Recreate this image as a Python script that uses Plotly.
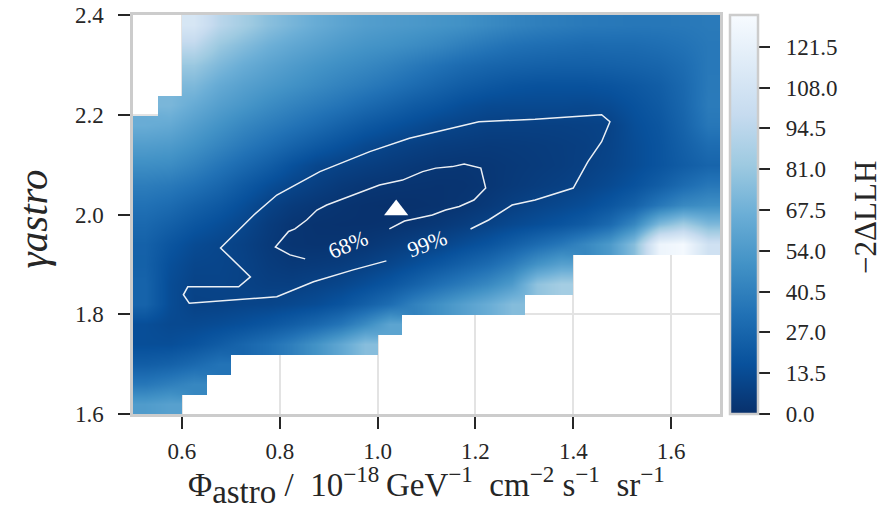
import plotly.graph_objects as go

N = None
# Scan grid (bin centres)
phi_grid = [0.525, 0.575, 0.625, 0.675, 0.725, 0.775, 0.825, 0.875, 0.925, 0.975, 1.025, 1.075,
            1.125, 1.175, 1.225, 1.275, 1.325, 1.375, 1.425, 1.475, 1.525, 1.575, 1.625, 1.675]
gamma_grid = [1.62, 1.66, 1.70, 1.74, 1.78, 1.82, 1.86, 1.90, 1.94, 1.98, 2.02, 2.06,
              2.10, 2.14, 2.18, 2.22, 2.26, 2.30, 2.34, 2.38]

# -2 Delta LLH, one row per gamma value (None = no scan point)
llh = [
    [55, 58, N, N, N, N, N, N, N, N, N, N, N, N, N, N, N, N, N, N, N, N, N, N],
    [36, 40, 44, N, N, N, N, N, N, N, N, N, N, N, N, N, N, N, N, N, N, N, N, N],
    [23, 25, 29, 34, N, N, N, N, N, N, N, N, N, N, N, N, N, N, N, N, N, N, N, N],
    [15, 15, 17.5, 22, 27, 32.5, 40, 50, 62, 75, N, N, N, N, N, N, N, N, N, N, N, N, N, N],
    [15, 12.5, 12.5, 14, 16, 19, 23, 28, 35, 46, 60, N, N, N, N, N, N, N, N, N, N, N, N, N],
    [26, 14, 9, 9, 10, 10.5, 12, 14, 18, 24, 31, 41, 49, 57, 65, 74, N, N, N, N, N, N, N, N],
    [26, 14, 9.5, 10, 9, 7.5, 7.5, 9, 11, 14.5, 19, 25, 32, 38, 45, 54.5, 78, 85, N, N, N, N, N, N],
    [24.5, 15.5, 11, 10.5, 9, 6, 4.5, 5, 6, 8, 11, 15, 19.5, 24.5, 30, 38, 50, 58, N, N, N, N, N, N],
    [25, 18.5, 13.5, 11, 8.5, 5, 2.5, 2, 2.3, 3.2, 5.5, 7.8, 10, 14, 18, 23.5, 30, 36, 44, 54, 75, 125, 130, 105],
    [28.5, 24, 19, 15, 11, 6, 2.8, 1.5, 1.1, 1.1, 1.5, 2.6, 4.2, 6.4, 9.2, 12.3, 15, 18, 22, 29.5, 44, 72, 84, 72],
    [33, 30, 25, 20.5, 15, 9, 5.5, 3.5, 2, 1, 0.5, 0.8, 1.5, 2.7, 4.9, 7.6, 10, 12, 14.5, 19, 25, 36, 45, 48],
    [39, 37, 33, 27.5, 21, 15, 10.5, 7.5, 4.8, 3.2, 2.5, 2, 1.7, 2, 3.2, 4.9, 6.5, 8, 10, 13, 17, 23, 30, 36],
    [47.5, 46.5, 41.5, 35, 29, 23, 16.5, 11.4, 8.9, 7.25, 5.75, 4.4, 3.3, 2.9, 3.5, 4.5, 5.5, 6.5, 8, 10.5, 14, 18, 22.5, 26.5],
    [56, 54.5, 49.5, 43, 37, 31.5, 26, 21, 16.5, 12.5, 9.75, 8, 6.5, 5.8, 5.2, 5.5, 6, 6.7, 7.6, 9.8, 14, 18, 24, 30.5],
    [65, 63, 56.5, 50, 44, 39, 34.5, 30, 25, 20.5, 17, 14, 11, 9.5, 8.2, 8, 8, 8.2, 8.6, 9.4, 15, 19, 26, 36],
    [N, 71, 64, 57, 52, 46.5, 42, 38, 34, 29.5, 25.5, 21.5, 18.5, 15, 13, 12.5, 12.5, 12.5, 12, 13.5, 17, 21, 27.5, 38],
    [N, N, 72, 63.5, 58, 53.5, 49.5, 45.5, 41.5, 38, 34, 30, 26, 22.5, 20, 18, 17, 17, 17, 18, 20, 23, 28.5, 37],
    [N, N, 81, 72, 65, 59.5, 55, 51, 47.5, 44.5, 41, 37, 33, 29.5, 27, 25.5, 24.5, 24, 24, 24.5, 25.5, 27, 30.5, 36.5],
    [N, N, 96, 81.5, 74, 67, 62, 58, 54, 51, 49, 46.5, 43.5, 39.5, 36, 33, 31.5, 30.5, 29.5, 30, 30, 31.5, 33.5, 36.5],
    [N, N, 110, 94, 85, 76, 70, 64.5, 60, 56.5, 54.5, 53, 51, 49, 45.5, 42.5, 40, 38.5, 37, 36.5, 36, 36, 36.5, 37.5],
]

# Contour paths (68% and 99%)
c68_phi = [1.024, 1.055, 1.079, 1.112, 1.139, 1.167, 1.197, 1.221, 1.211, 1.177, 1.153, 1.119,
           1.092, 1.051, 1.004, 0.957, 0.930, 0.896, 0.876, 0.855, 0.831, 0.818, 0.791, 0.821, 0.852]
c68_gamma = [1.971, 1.987, 1.992, 1.999, 2.009, 2.016, 2.029, 2.053, 2.093, 2.101, 2.096, 2.093,
             2.086, 2.069, 2.059, 2.042, 2.032, 2.019, 2.009, 1.989, 1.971, 1.966, 1.935, 1.919, 1.911]
c99_phi = [1.190, 1.227, 1.275, 1.322, 1.400, 1.430, 1.458, 1.475, 1.458, 1.390, 1.322, 1.207,
           1.133, 1.065, 0.984, 0.882, 0.794, 0.747, 0.679, 0.740, 0.716, 0.612, 0.603, 0.615,
           0.794, 0.869, 0.950, 1.018]
c99_gamma = [1.971, 1.989, 2.019, 2.029, 2.053, 2.106, 2.146, 2.186, 2.200, 2.196, 2.191, 2.186,
             2.169, 2.153, 2.126, 2.086, 2.039, 1.999, 1.933, 1.875, 1.855, 1.855, 1.839, 1.822,
             1.835, 1.865, 1.889, 1.907]

label_text = ["68%", "99%"]
label_phi = [0.94, 1.102]
label_gamma = [1.939, 1.942]
label_angle = [-23, -21]

best_phi = [1.038]
best_gamma = [2.009]

x_ticks = [0.6, 0.8, 1.0, 1.2, 1.4, 1.6]
y_ticks = [1.6, 1.8, 2.0, 2.2, 2.4]
cbar_ticks = [0.0, 13.5, 27.0, 40.5, 54.0, 67.5, 81.0, 94.5, 108.0, 121.5]

blues_r = [
    [0.0, "#08306b"], [0.125, "#08519c"], [0.25, "#2171b5"], [0.375, "#4292c6"],
    [0.5, "#6baed6"], [0.625, "#9ecae1"], [0.75, "#c6dbef"], [0.875, "#deebf7"],
    [1.0, "#f7fbff"],
]

FONT = "Liberation Serif"
TXT = "#262626"
NB = "\u00a0"

fig = go.Figure()
fig.add_trace(go.Heatmap(
    x=phi_grid, y=gamma_grid, z=llh, zsmooth="best", colorscale=blues_r,
    zmin=0, zmax=132, hoverinfo="skip",
    colorbar=dict(
        x=1.017, xanchor="left", xpad=0, y=0.5, yanchor="middle", ypad=0,
        len=1, lenmode="fraction", thickness=28,
        outlinecolor="#cccccc", outlinewidth=2.5,
        tickvals=cbar_ticks, ticktext=[NB * 2 + f"{v:.1f}" for v in cbar_ticks],
        ticks="outside", ticklen=11, tickwidth=2, tickcolor=TXT,
        tickfont=dict(family=FONT, size=23, color=TXT),
    ),
))
for cx, cy in ((c68_phi, c68_gamma), (c99_phi, c99_gamma)):
    fig.add_trace(go.Scatter(x=cx, y=cy, mode="lines",
                             line=dict(color="rgba(255,255,255,0.92)", width=1.5),
                             hoverinfo="skip", showlegend=False))
fig.add_trace(go.Scatter(x=best_phi, y=best_gamma, mode="markers",
                         marker=dict(symbol="triangle-up", size=21, color="white",
                                     line=dict(width=0)),
                         hoverinfo="skip", showlegend=False))

for t, lx, ly, ang in zip(label_text, label_phi, label_gamma, label_angle):
    fig.add_annotation(x=lx, y=ly, xref="x", yref="y", text=t, showarrow=False,
                       textangle=ang, font=dict(family=FONT, size=22, color="white"))

axis_common = dict(
    showgrid=True, gridcolor="#e3e3e3", gridwidth=1.5,
    showline=True, mirror=True, linecolor="#cccccc", linewidth=2.5,
    ticks="outside", ticklen=12, tickwidth=2, tickcolor=TXT,
    tickfont=dict(family=FONT, size=23, color=TXT), zeroline=False,
    tickformat=".1f", ticklabeloverflow="allow",
)
fig.update_xaxes(range=[0.5, 1.7], tickvals=x_ticks, ticklabelstandoff=3, **axis_common)
fig.update_yaxes(range=[1.6, 2.4], tickvals=y_ticks, ticklabelstandoff=10, **axis_common)

# Axis titles
fig.add_annotation(
    xref="paper", yref="paper", x=0.5, y=-0.179, xanchor="center", yanchor="middle",
    showarrow=False,
    text=("Φ<sub><span style='font-size:33px'>astro</span></sub> /" + NB * 2 + "10<sup>−18</sup>"
          + "\u2009GeV<sup>−1</sup>" + NB * 2 + "cm<sup>−2</sup>" + NB + "s<sup>−1</sup>"
          + NB * 2 + "sr<sup>−1</sup>"),
    font=dict(family=FONT, size=33, color=TXT))
fig.add_annotation(
    xref="paper", yref="paper", x=-0.1687, y=0.49, xanchor="center", yanchor="middle",
    textangle=-90, showarrow=False,
    text="<i>γastro</i>", font=dict(family=FONT, size=41, color=TXT))
fig.add_annotation(
    xref="paper", yref="paper", x=1.2487, y=0.494, xanchor="center", yanchor="middle",
    textangle=-90, showarrow=False,
    text="−2ΔLLH", font=dict(family=FONT, size=31, color=TXT))

# page body has an 8px margin: size the figure so it fills the 893x506 window
fig.update_layout(
    width=885, height=498,
    margin=dict(l=125, r=173, t=7, b=92, autoexpand=False),
    paper_bgcolor="white", plot_bgcolor="white",
    showlegend=False,
)

fig.write_html("out.html")
